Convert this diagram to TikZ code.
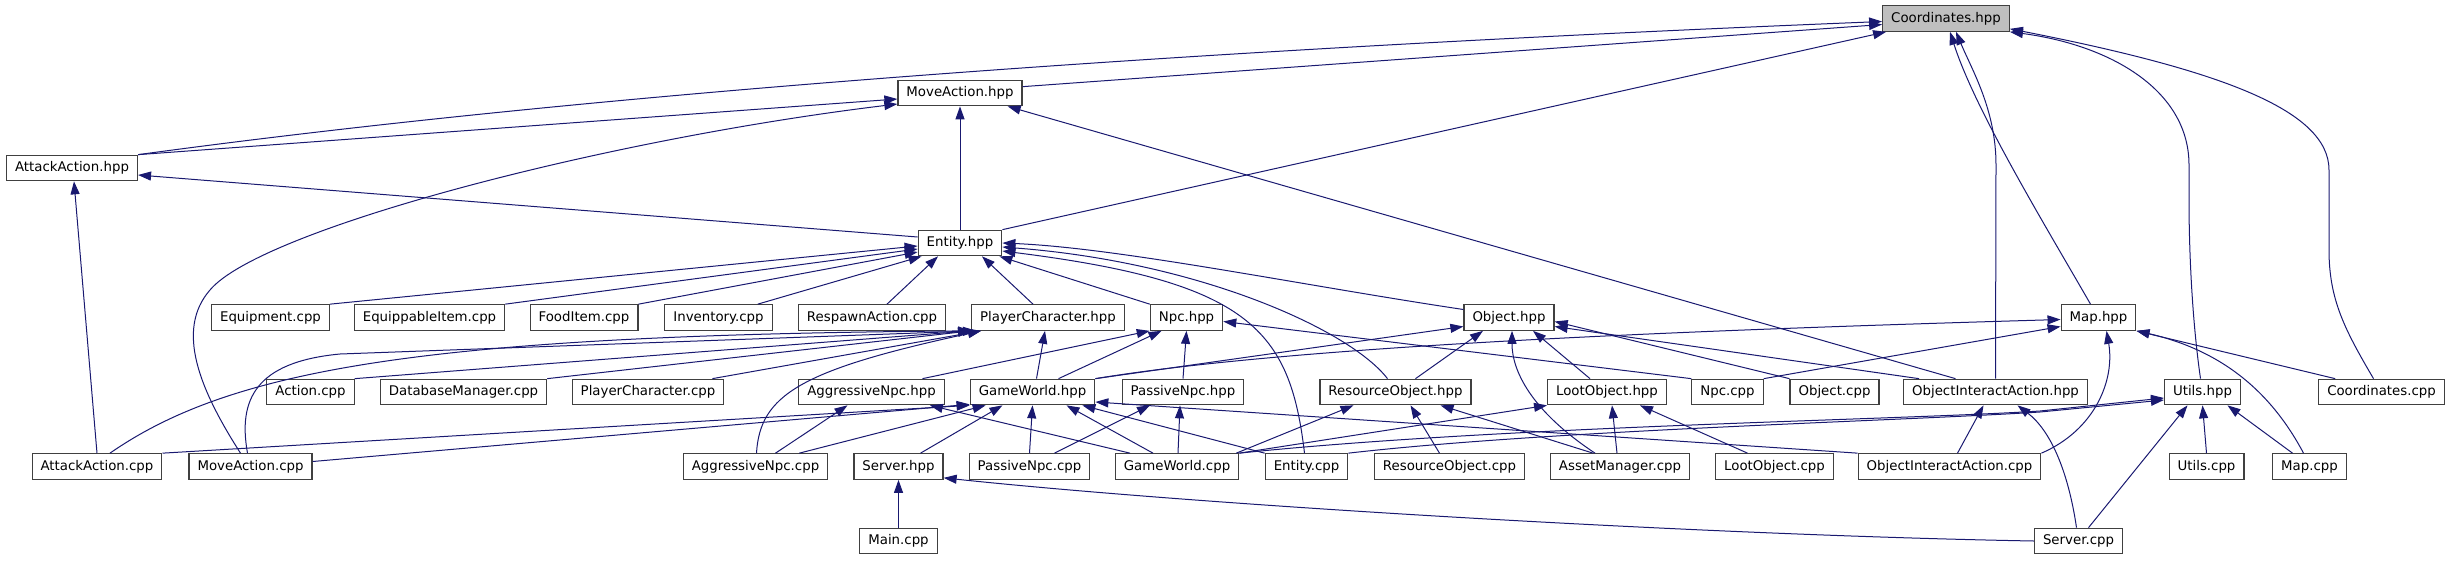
\documentclass[tikz,border=0pt]{standalone}
\usepackage{fontspec}
\setmainfont{DejaVu Sans}
\usetikzlibrary{arrows.meta,calc}

\definecolor{edgeblue}{HTML}{191970}
\definecolor{boxline}{HTML}{404040}
\definecolor{rootfill}{HTML}{BFBFBF}

\begin{document}
\begin{tikzpicture}[
  x=1pt, y=-1pt,
  font=\fontsize{13.33}{16}\selectfont,
  file/.style={draw=boxline, line width=1.2pt, fill=white, inner xsep=8.5pt,
    inner ysep=0pt, minimum height=25.5pt, text height=10pt, text depth=3pt},
  root/.style={file, fill=rootfill},
  incl/.style={draw=edgeblue, line width=1pt, -{Triangle[length=13pt,width=9pt]}}
]
\useasboundingbox (0,0) rectangle (2450,560);

% Headers and sources, one rank per row.
\node[root] (coordhpp) at (1946,18.5) {Coordinates.hpp};
\node[file] (movehpp) at (960,93) {MoveAction.hpp};
\node[file] (attackhpp) at (72,168) {AttackAction.hpp};
\node[file] (entityhpp) at (960,243) {Entity.hpp};

\node[file] (equipcpp) at (270.5,317.5) {Equipment.cpp};
\node[file] (equipitemcpp) at (429.5,317.5) {EquippableItem.cpp};
\node[file] (foodcpp) at (584,317.5) {FoodItem.cpp};
\node[file] (invcpp) at (718.5,317.5) {Inventory.cpp};
\node[file] (respawncpp) at (872,317.5) {RespawnAction.cpp};
\node[file] (pchpp) at (1048,317.5) {PlayerCharacter.hpp};
\node[file] (npchpp) at (1186.5,317.5) {Npc.hpp};
\node[file] (objhpp) at (1509,317.5) {Object.hpp};
\node[file] (maphpp) at (2098.5,317.5) {Map.hpp};

\node[file] (actioncpp) at (310.5,392) {Action.cpp};
\node[file] (dbcpp) at (463.5,392) {DatabaseManager.cpp};
\node[file] (pccpp) at (648,392) {PlayerCharacter.cpp};
\node[file] (agghpp) at (871.5,392) {AggressiveNpc.hpp};
\node[file] (gwhpp) at (1032.5,392) {GameWorld.hpp};
\node[file] (passhpp) at (1183,392) {PassiveNpc.hpp};
\node[file] (reshpp) at (1395.5,392) {ResourceObject.hpp};
\node[file] (loothpp) at (1607,392) {LootObject.hpp};
\node[file] (npccpp) at (1727.5,392) {Npc.cpp};
\node[file] (objcpp) at (1834.5,392) {Object.cpp};
\node[file] (oiahpp) at (1995.5,392) {ObjectInteractAction.hpp};
\node[file] (utilshpp) at (2202.5,392) {Utils.hpp};
\node[file] (coordcpp) at (2381.5,392) {Coordinates.cpp};

\node[file] (attackcpp) at (97,466.5) {AttackAction.cpp};
\node[file] (movecpp) at (250.5,466.5) {MoveAction.cpp};
\node[file] (aggcpp) at (755.5,466.5) {AggressiveNpc.cpp};
\node[file] (serverhpp) at (898.5,466.5) {Server.hpp};
\node[file] (passcpp) at (1029.5,466.5) {PassiveNpc.cpp};
\node[file] (gwcpp) at (1177,466.5) {GameWorld.cpp};
\node[file] (entitycpp) at (1306.5,466.5) {Entity.cpp};
\node[file] (rescpp) at (1449.5,466.5) {ResourceObject.cpp};
\node[file] (assetcpp) at (1620,466.5) {AssetManager.cpp};
\node[file] (lootcpp) at (1774.5,466.5) {LootObject.cpp};
\node[file] (oiacpp) at (1949.5,466.5) {ObjectInteractAction.cpp};
\node[file] (utilscpp) at (2206.5,466.5) {Utils.cpp};
\node[file] (mapcpp) at (2309.5,466.5) {Map.cpp};

\node[file] (maincpp) at (898.5,541) {Main.cpp};
\node[file] (servercpp) at (2078.5,541) {Server.cpp};

% Includes of Coordinates.hpp.
\draw[incl] (attackhpp.north east) .. controls (650,85) and (1300,45) .. ($(coordhpp.west)+(0,3)$);
\draw[incl] ($(movehpp.north east)+(0,7)$) -- ($(coordhpp.west)+(0,6)$);
\draw[incl] (entityhpp.north east) -- ($(coordhpp.south west)+(4,0)$);
\draw[incl] ($(maphpp.north)+(-8,0)$) .. controls (2045,225) and (1975,110) .. ($(coordhpp.south)+(4,0)$);
\draw[incl] (oiahpp.north) -- (1996,165) .. controls (1996,110) and (1972,70) .. ($(coordhpp.south)+(10,0)$);
\draw[incl] ($(utilshpp.north)+(-2,0)$) .. controls (2192,320) and (2189,250) .. (2189,200)
  -- (2189,165) .. controls (2189,90) and (2110,45) .. (coordhpp.south east);
\draw[incl] ($(coordcpp.north)+(-8,0)$) .. controls (2345,330) and (2329,300) .. (2329,250)
  -- (2329,170) .. controls (2329,110) and (2220,70) .. ($(coordhpp.south east)+(0,-3)$);

% Includes of MoveAction.hpp and AttackAction.hpp.
\draw[incl] (attackhpp.north east) -- ($(movehpp.west)+(0,6)$);
\draw[incl] ($(movecpp.north)+(-10,0)$) .. controls (200,390) and (175,330) .. (210,290)
  .. controls (260,230) and (600,140) .. ($(movehpp.west)+(0,11)$);
\draw[incl] (entityhpp.north) -- (movehpp.south);
\draw[incl] ($(oiahpp.north)+(-40,0)$) -- ($(movehpp.south east)+(-15,0)$);
\draw[incl] ($(entityhpp.west)+(0,-6)$) -- ($(attackhpp.east)+(0,7)$);
\draw[incl] (attackcpp.north) -- ($(attackhpp.south)+(2,0)$);

% Includes of Entity.hpp.
\draw[incl] (equipcpp.north east) -- ($(entityhpp.west)+(0,3)$);
\draw[incl] (equipitemcpp.north east) -- ($(entityhpp.west)+(0,6)$);
\draw[incl] (foodcpp.north east) -- ($(entityhpp.west)+(0,9)$);
\draw[incl] ($(invcpp.north east)+(-15,0)$) -- ($(entityhpp.south west)+(4,0)$);
\draw[incl] ($(respawncpp.north)+(15,0)$) -- ($(entityhpp.south)+(-22,0)$);
\draw[incl] ($(pchpp.north)+(-15,0)$) -- ($(entityhpp.south)+(22,0)$);
\draw[incl] (npchpp.north west) -- ($(entityhpp.south east)+(-3,0)$);
\draw[incl] ($(objhpp.west)+(0,-8)$) .. controls (1300,285) and (1120,248) .. (entityhpp.east);
\draw[incl] ($(reshpp.north)+(-8,0)$) .. controls (1350,330) and (1200,262) .. ($(entityhpp.east)+(0,4)$);
\draw[incl] ($(entitycpp.north)+(-2,0)$) .. controls (1290,330) and (1250,282) .. ($(entityhpp.east)+(0,8)$);

% Includes of PlayerCharacter.hpp and Npc.hpp.
\draw[incl] (actioncpp.north east) -- (pchpp.south west);
\draw[incl] (dbcpp.north east) -- (pchpp.south west);
\draw[incl] ($(pccpp.north east)+(-12,0)$) -- ($(pchpp.south west)+(10,0)$);
\draw[incl] ($(attackcpp.north)+(13,0)$) .. controls (230,370) and (420,335) .. (pchpp.south west);
\draw[incl] ($(movecpp.north)+(-3,0)$) .. controls (238,400) and (255,362) .. (340,354)
  -- ($(pchpp.south west)+(5,0)$);
\draw[incl] ($(aggcpp.north)+(1,0)$) .. controls (760,395) and (800,370) .. ($(pchpp.south west)+(10,0)$);
\draw[incl] ($(gwhpp.north)+(4,0)$) -- ($(pchpp.south)+(-3,0)$);
\draw[incl] ($(agghpp.north)+(51,0)$) -- (npchpp.south west);
\draw[incl] ($(gwhpp.north)+(26,0)$) -- ($(npchpp.south)+(-25,0)$);
\draw[incl] (passhpp.north) -- (npchpp.south);
\draw[incl] (npccpp.north west) -- ($(npchpp.east)+(0,4)$);

% Includes of Object.hpp and Map.hpp.
\draw[incl] (gwhpp.north east) -- ($(objhpp.west)+(0,9)$);
\draw[incl] ($(reshpp.north)+(20,0)$) -- ($(objhpp.south)+(-26,0)$);
\draw[incl] ($(assetcpp.north)+(-25,0)$) .. controls (1530,410) and (1512,370) .. ($(objhpp.south)+(3,0)$);
\draw[incl] ($(loothpp.north)+(-17,0)$) -- ($(objhpp.south)+(24,0)$);
\draw[incl] (objcpp.north west) -- ($(objhpp.east)+(0,4)$);
\draw[incl] ($(oiahpp.north west)+(16,0)$) -- ($(objhpp.east)+(0,9)$);
\draw[incl] (gwhpp.north east) .. controls (1300,345) and (1700,330) .. ($(maphpp.west)+(0,2)$);
\draw[incl] (npccpp.north east) -- ($(maphpp.west)+(0,9)$);
\draw[incl] (oiacpp.north east) .. controls (2095,430) and (2115,380) .. ($(maphpp.south)+(8,0)$);
\draw[incl] ($(coordcpp.north west)+(17,0)$) -- (maphpp.south east);
\draw[incl] ($(mapcpp.north)+(-6,0)$) .. controls (2270,390) and (2220,350) .. (maphpp.south east);

% Includes of the middle-rank headers.
\draw[incl] ($(aggcpp.north)+(20,0)$) -- ($(agghpp.south)+(-24,0)$);
\draw[incl] ($(gwcpp.north)+(-47,0)$) -- ($(agghpp.south east)+(-15,0)$);
\draw[incl] (attackcpp.north east) -- (gwhpp.south west);
\draw[incl] ($(movecpp.east)+(0,-5)$) -- ($(gwhpp.south west)+(0,-1)$);
\draw[incl] ($(aggcpp.north east)+(-29,0)$) -- ($(gwhpp.south west)+(16,0)$);
\draw[incl] ($(serverhpp.north)+(22,0)$) -- ($(gwhpp.south)+(-30,0)$);
\draw[incl] (passcpp.north) -- (gwhpp.south);
\draw[incl] ($(gwcpp.north)+(-24,0)$) -- ($(gwhpp.south)+(34,0)$);
\draw[incl] (entitycpp.north west) -- ($(gwhpp.south east)+(-13,0)$);
\draw[incl] (oiacpp.north west) -- ($(gwhpp.east)+(0,10)$);
\draw[incl] ($(passcpp.north)+(25,0)$) -- ($(passhpp.south)+(-33,0)$);
\draw[incl] ($(gwcpp.north)+(1,0)$) -- ($(passhpp.south)+(-3,0)$);
\draw[incl] ($(gwcpp.north east)+(-3,0)$) -- ($(reshpp.south)+(-42,0)$);
\draw[incl] ($(rescpp.north)+(-10,0)$) -- ($(reshpp.south)+(15,0)$);
\draw[incl] ($(assetcpp.north)+(-27,0)$) -- ($(reshpp.south)+(45,0)$);
\draw[incl] (gwcpp.north east) -- (loothpp.south west);
\draw[incl] ($(assetcpp.north)+(-3,0)$) -- ($(loothpp.south)+(5,0)$);
\draw[incl] ($(lootcpp.north)+(-27,0)$) -- ($(loothpp.south east)+(-27,0)$);
\draw[incl] ($(oiacpp.north)+(8,0)$) -- ($(oiahpp.south)+(-12,0)$);
\draw[incl] ($(servercpp.north)+(-2,0)$) .. controls (2068,470) and (2050,430) .. ($(oiahpp.south)+(22,0)$);

% Includes of Utils.hpp and Server.hpp.
\draw[incl] (gwcpp.north east) .. controls (1500,426) and (1900,420) .. (2040,411) -- ($(utilshpp.west)+(0,6)$);
\draw[incl] (entitycpp.north east) .. controls (1550,430) and (1900,421) .. (2040,412) -- ($(utilshpp.west)+(0,8)$);
\draw[incl] ($(servercpp.north)+(10,0)$) -- ($(utilshpp.south)+(-15,0)$);
\draw[incl] (utilscpp.north) -- (utilshpp.south);
\draw[incl] ($(mapcpp.north)+(-17,0)$) -- ($(utilshpp.south)+(25,0)$);
\draw[incl] (maincpp.north) -- (serverhpp.south);
\draw[incl] (servercpp.west) .. controls (1700,535) and (1200,505) .. ($(serverhpp.south east)+(0,-2)$);

\end{tikzpicture}
\end{document}
